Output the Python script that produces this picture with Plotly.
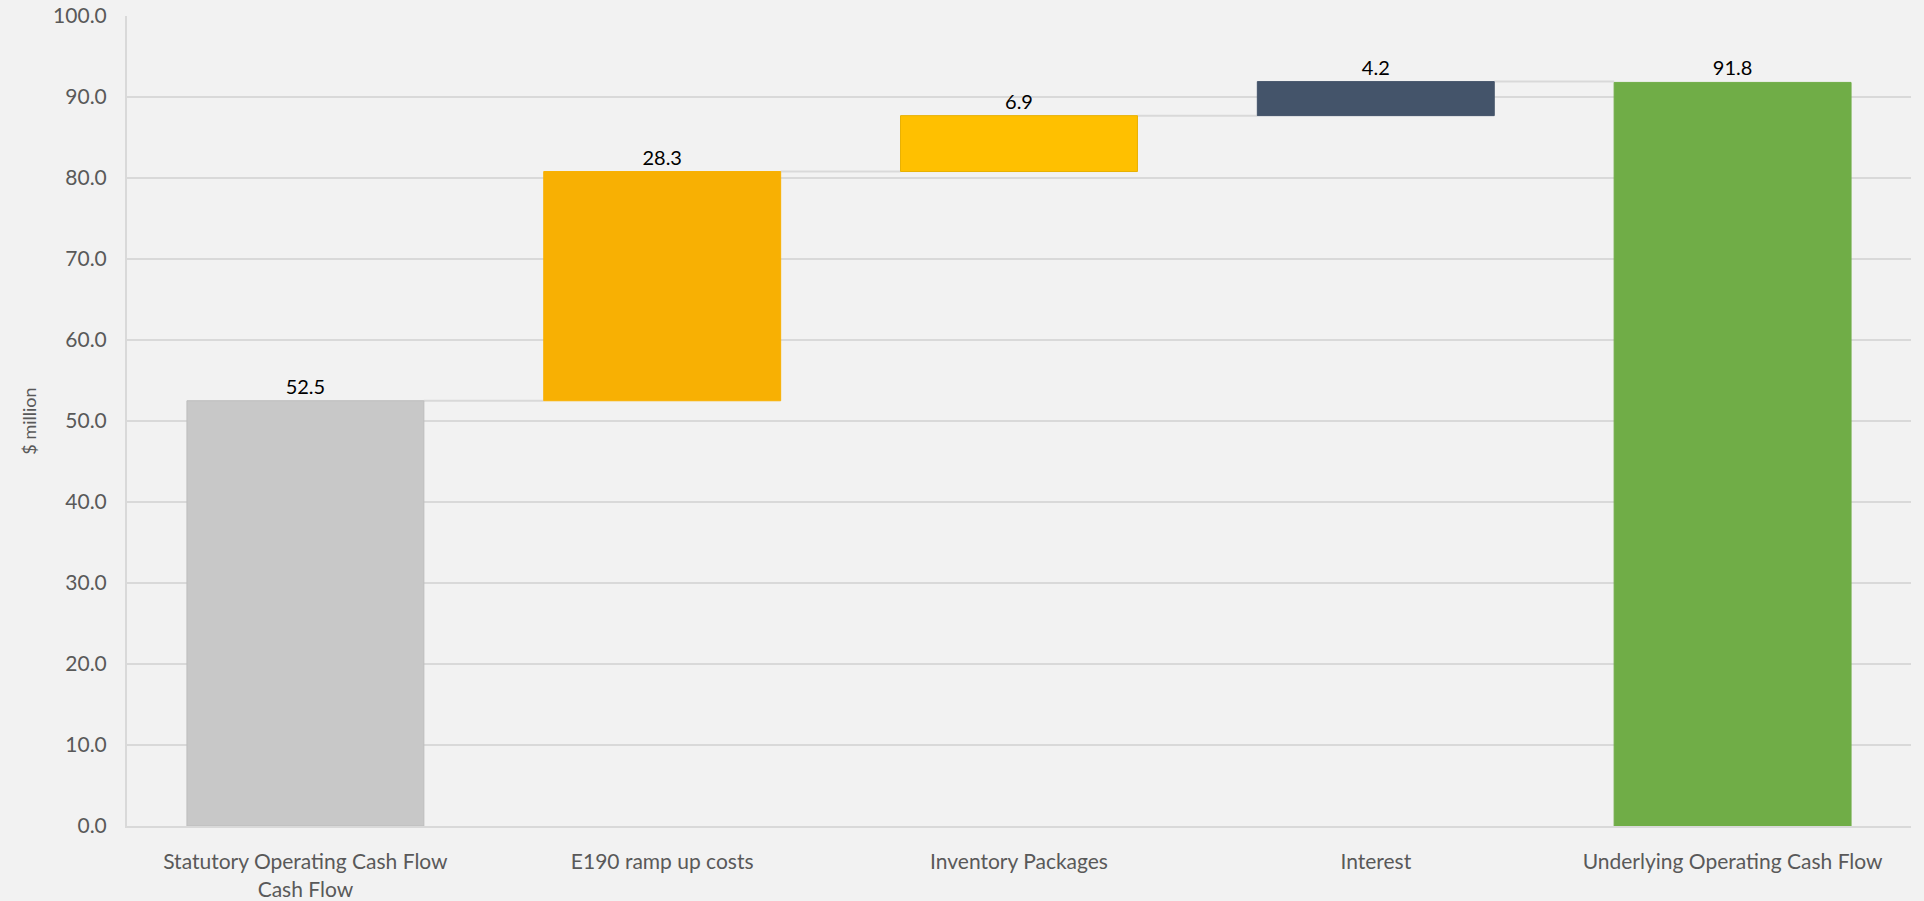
import plotly.graph_objects as go

categories = ["Statutory Operating Cash Flow<br>Cash Flow", "E190 ramp up costs",
              "Inventory Packages", "Interest", "Underlying Operating Cash Flow"]
values = [52.5, 28.3, 6.9, 4.2, 91.8]
measures = ["absolute", "relative", "relative", "relative", "total"]
colors = ["#C8C8C8", "#F8B003", "#FFC000", "#44546A", "#70AD47"]
labels = ["52.5", "28.3", "6.9", "4.2", "91.8"]

# compute bases and tops from the data
bases, tops = [], []
running = 0.0
for v, m in zip(values, measures):
    if m == "absolute":
        bases.append(0.0); running = v
    elif m == "relative":
        bases.append(running); running += v
    else:
        bases.append(0.0); running = v
    tops.append(bases[-1] + v)

BAR_W = 0.664
fig = go.Figure()
fig.add_trace(go.Bar(
    x=list(range(len(categories))), y=values, base=bases, width=BAR_W,
    marker=dict(color=colors, line=dict(color=["#BDBDBD", "#F8B003", "#E8B000", "#44546A", "#70AD47"], width=1)),
    text=labels, textposition="outside", cliponaxis=False,
    textfont=dict(family="Lato", size=20, color="#000000"),
    hoverinfo="skip", showlegend=False,
))

shapes = []
for i in range(len(values) - 1):
    lvl = tops[i]
    shapes.append(dict(type="line", xref="x", yref="y",
                       x0=i + BAR_W / 2, x1=i + 1 - BAR_W / 2, y0=lvl, y1=lvl,
                       line=dict(color="#D9D9D9", width=2), layer="below"))

fig.update_layout(
    width=1924, height=901,
    paper_bgcolor="#F2F2F2", plot_bgcolor="#F2F2F2",
    margin=dict(l=127, r=13, t=16, b=75, autoexpand=False),
    shapes=shapes,
    xaxis=dict(
        tickmode="array", tickvals=list(range(len(categories))), ticktext=categories,
        range=[-0.5, len(categories) - 0.5], automargin=False,
        showgrid=False, showline=True, linecolor="#D9D9D9", linewidth=2,
        ticks="", ticklabelstandoff=16,
        tickfont=dict(family="Lato", size=21, color="#595959"),
        zeroline=False,
    ),
    yaxis=dict(
        range=[0, 100], dtick=10, tickformat=".1f", automargin=False,
        showgrid=True, gridcolor="#D9D9D9", gridwidth=2,
        showline=True, linecolor="#D9D9D9", linewidth=2,
        zeroline=False, ticks="", ticklabelstandoff=14,
        tickfont=dict(family="Lato", size=21, color="#595959"),
        title=dict(text="$ million", font=dict(family="Lato", size=18, color="#595959"), standoff=12),
    ),
    font=dict(family="Lato"),
)

fig.write_html("out.html", config={"displayModeBar": False},
               post_script="document.body.style.margin='0';document.body.style.background='#F2F2F2';document.body.style.overflow='hidden';")
